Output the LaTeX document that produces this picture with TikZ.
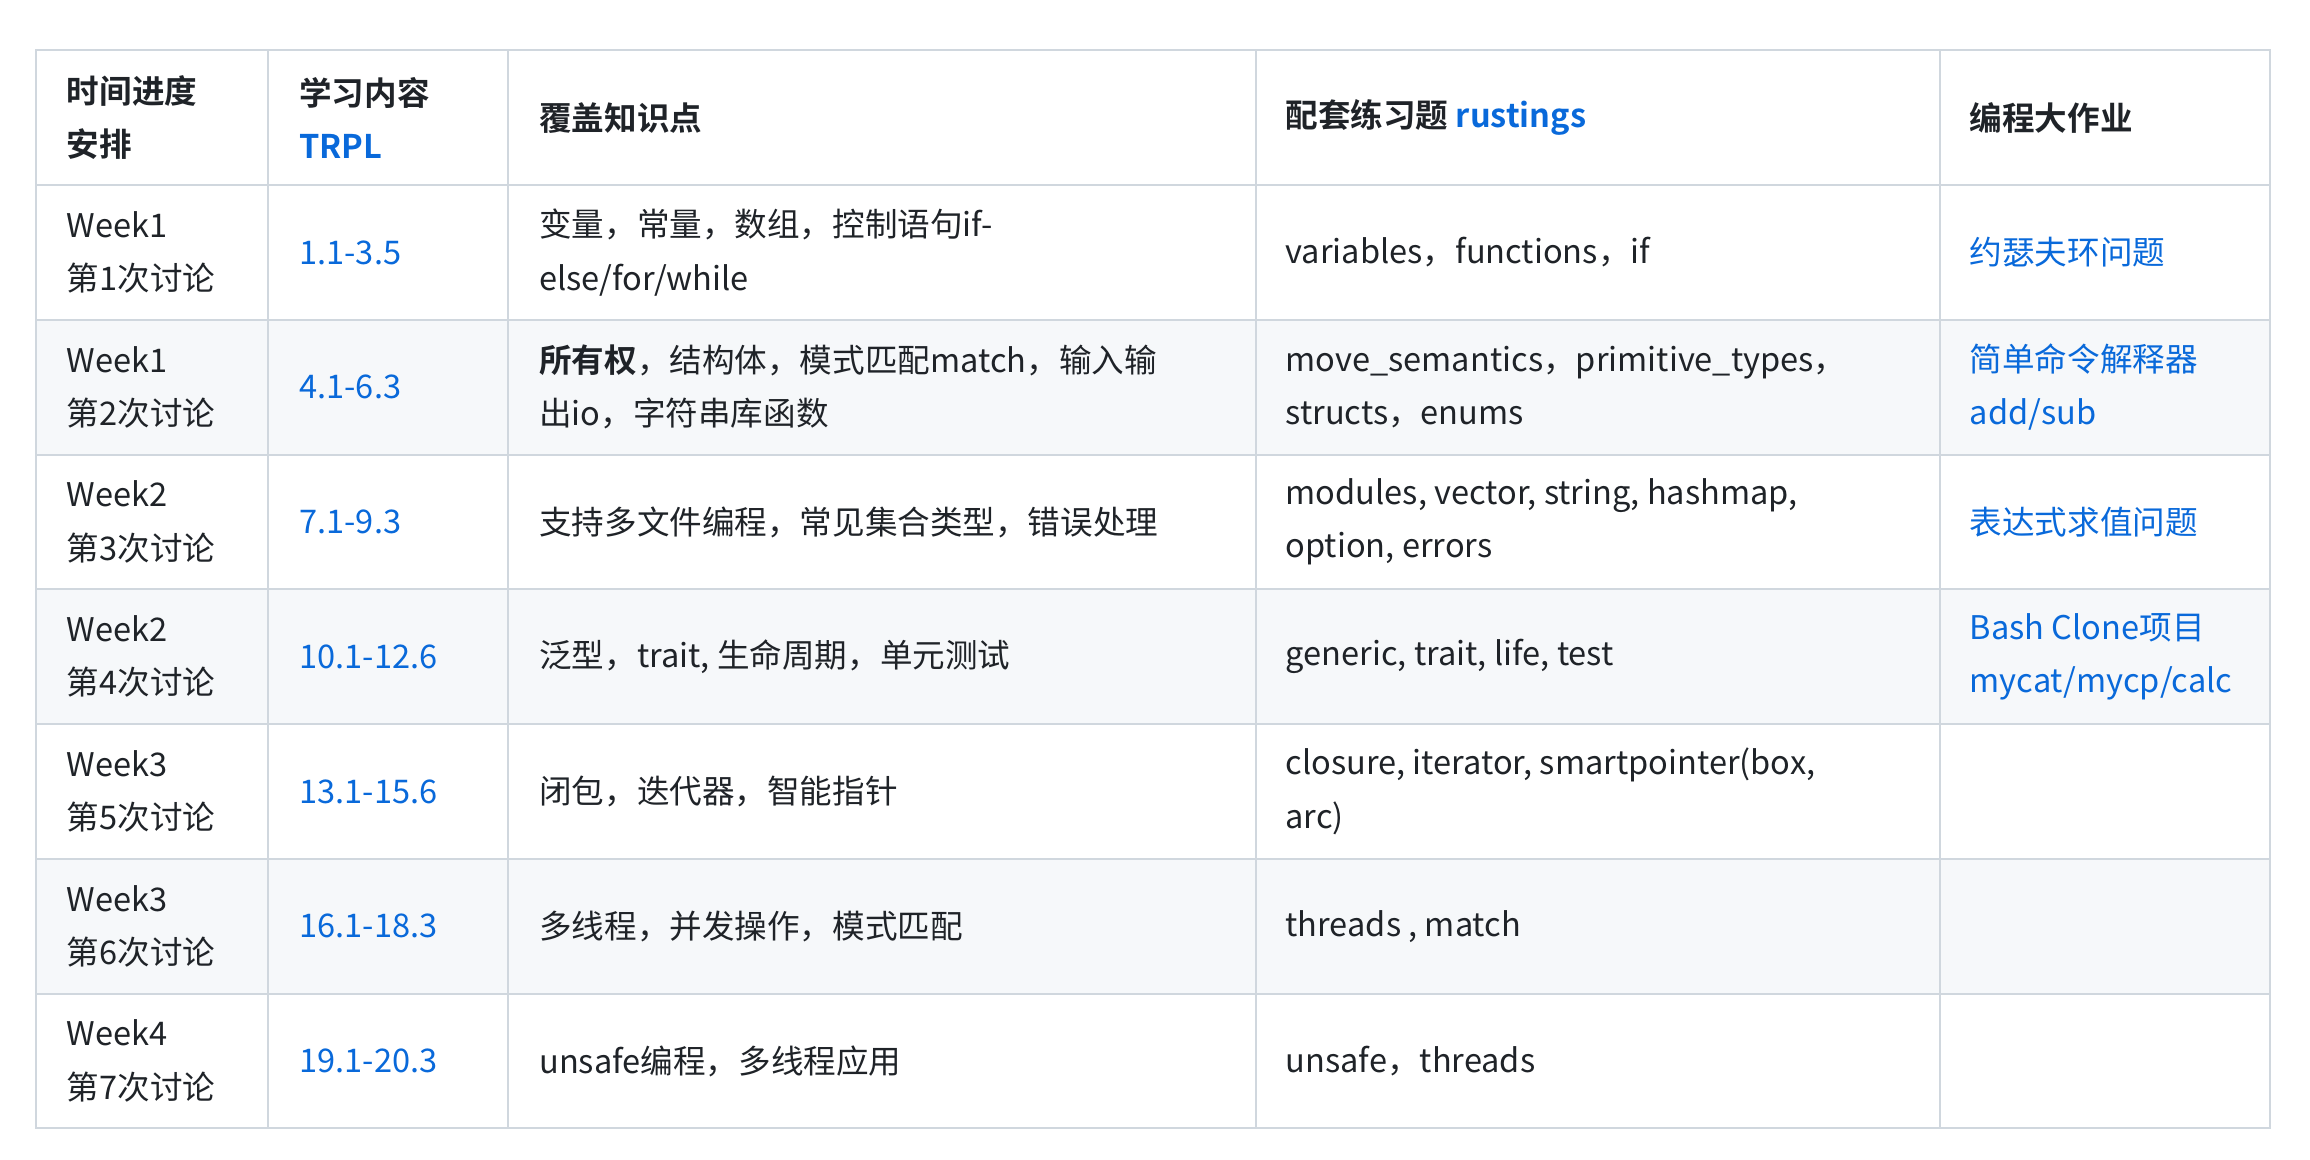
\documentclass[tikz,border=0pt]{standalone}
\usepackage{fontspec}
\setmainfont{Noto Sans CJK SC}[BoldFont={Noto Sans CJK SC Bold}]
\definecolor{bd}{HTML}{D0D7DE}
\definecolor{lk}{HTML}{0969DA}
\definecolor{alt}{HTML}{F6F8FA}
\definecolor{tx}{HTML}{1F2328}
\begin{document}
\begin{tikzpicture}[x=1pt,y=-1pt,
  cell/.style={anchor=west,align=left,inner sep=0pt,font=\fontsize{22}{36}\selectfont,text=tx},
  lnk/.style={cell,text=lk},
  hd/.style={cell,font=\fontsize{22}{36}\selectfont\bfseries}]
\useasboundingbox (0,0) rectangle (1560,783);
\foreach \r in {2,4,6}{\fill[alt] (24,{125+(\r-1)*91}) rectangle (1533,{125+\r*91});}
\draw[bd,line width=1.3pt] (24,34) rectangle (1533,762);
\foreach \x in {181,343,848,1310}{\draw[bd,line width=1.3pt] (\x,34) -- (\x,762);}
\foreach \y in {125,216,307,398,489,580,671}{\draw[bd,line width=1.3pt] (24,\y) -- (1533,\y);}
% header
\node[hd] (h1) at (45,79.5) {时间进度\\安排};
\node[hd] (h2) at (202,79.5) {学习内容\\\textcolor{lk}{TRPL}};
\node[hd] (h3) at (364,79.5) {覆盖知识点};
\node[hd] (h4) at (868,79.5) {配套练习题 \textcolor{lk}{rustings}};
\node[hd] (h5) at (1330,79.5) {编程大作业};
% rows
\def\cy#1{(125+#1*91-45.5)}
\node[cell] (a1) at (45,170.5) {Week1\\第1次讨论};
\node[lnk] (b1) at (202,170.5) {1.1-3.5};
\node[cell] (c1) at (364,170.5) {变量，常量，数组，控制语句if-\\else/for/while};
\node[cell] (d1) at (868,170.5) {variables，functions，if};
\node[lnk] (e1) at (1330,170.5) {约瑟夫环问题};
\node[cell] (a2) at (45,261.5) {Week1\\第2次讨论};
\node[lnk] (b2) at (202,261.5) {4.1-6.3};
\node[cell] (c2) at (364,261.5) {\textbf{所有权}，结构体，模式匹配match，输入输\\出io，字符串库函数};
\node[cell] (d2) at (868,261.5) {move\_semantics，primitive\_types，\\structs，enums};
\node[lnk] (e2) at (1330,261.5) {简单命令解释器\\add/sub};
\node[cell] (a3) at (45,352.5) {Week2\\第3次讨论};
\node[lnk] (b3) at (202,352.5) {7.1-9.3};
\node[cell] (c3) at (364,352.5) {支持多文件编程，常见集合类型，错误处理};
\node[cell] (d3) at (868,352.5) {modules, vector, string, hashmap,\\option, errors};
\node[lnk] (e3) at (1330,352.5) {表达式求值问题};
\node[cell] (a4) at (45,443.5) {Week2\\第4次讨论};
\node[lnk] (b4) at (202,443.5) {10.1-12.6};
\node[cell] (c4) at (364,443.5) {泛型，trait, 生命周期，单元测试};
\node[cell] (d4) at (868,443.5) {generic, trait, life, test};
\node[lnk] (e4) at (1330,443.5) {Bash Clone项目\\mycat/mycp/calc};
\node[cell] (a5) at (45,534.5) {Week3\\第5次讨论};
\node[lnk] (b5) at (202,534.5) {13.1-15.6};
\node[cell] (c5) at (364,534.5) {闭包，迭代器，智能指针};
\node[cell] (d5) at (868,534.5) {closure, iterator, smartpointer(box,\\arc)};
\node[cell] (a6) at (45,625.5) {Week3\\第6次讨论};
\node[lnk] (b6) at (202,625.5) {16.1-18.3};
\node[cell] (c6) at (364,625.5) {多线程，并发操作，模式匹配};
\node[cell] (d6) at (868,625.5) {threads , match};
\node[cell] (a7) at (45,716.5) {Week4\\第7次讨论};
\node[lnk] (b7) at (202,716.5) {19.1-20.3};
\node[cell] (c7) at (364,716.5) {unsafe编程，多线程应用};
\node[cell] (d7) at (868,716.5) {unsafe，threads};
\end{tikzpicture}
\end{document}
